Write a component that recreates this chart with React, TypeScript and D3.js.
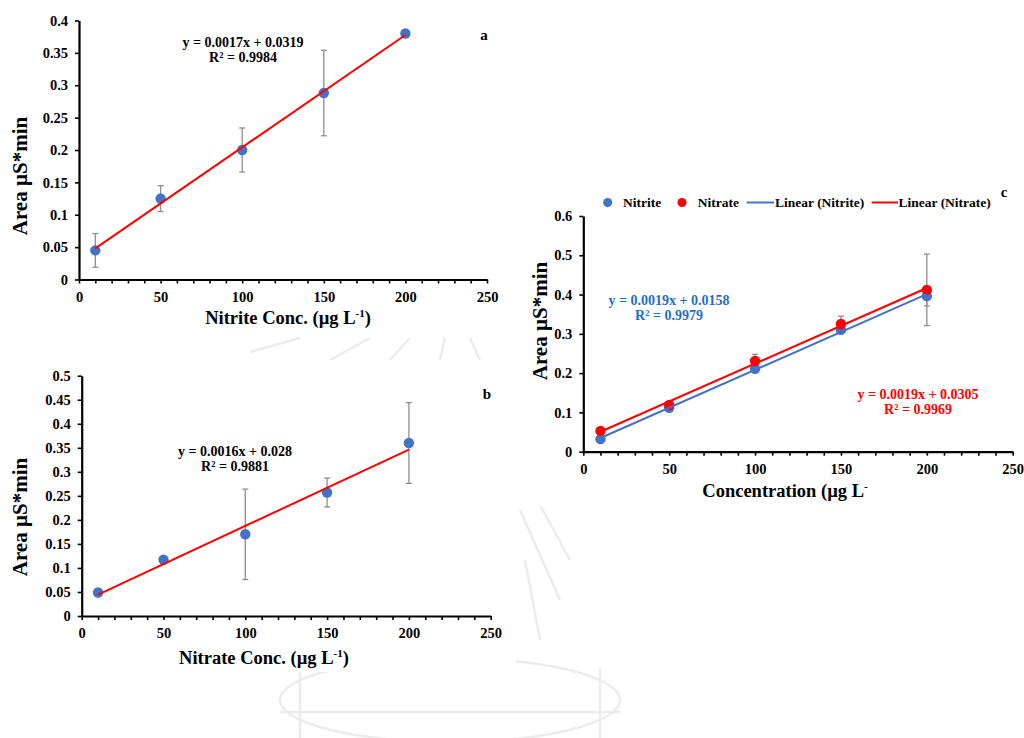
import React, { useEffect, useRef } from 'react';
import * as d3 from 'd3';

// concentrations used in every calibration (µg L-1)
const concentrations = [10, 50, 100, 150, 200];
const xTickValues = [0, 50, 100, 150, 200, 250];

// a: nitrite calibration
const nitriteAreaA = [0.045, 0.125, 0.2, 0.288, 0.38];
const nitriteErrA = [0.026, 0.02, 0.034, 0.066, 0];
const eqA = ['y = 0.0017x + 0.0319', 'R² = 0.9984'];

// b: nitrate calibration
const nitrateAreaB = [0.049, 0.117, 0.17, 0.257, 0.36];
const nitrateErrB = [0.007, 0, 0.094, 0.03, 0.084];
const eqB = ['y = 0.0016x + 0.028', 'R² = 0.9881'];

// c: both together
const nitriteAreaC = [0.032, 0.112, 0.211, 0.31, 0.396];
const nitriteErrC = [0.003, 0.01, 0.004, 0.008, 0.025];
const nitrateAreaC = [0.053, 0.119, 0.231, 0.325, 0.412];
const nitrateErrC = [0.004, 0.008, 0.017, 0.02, 0.091];
const eqNitriteC = ['y = 0.0019x + 0.0158', 'R² = 0.9979'];
const eqNitrateC = ['y = 0.0019x + 0.0305', 'R² = 0.9969'];
const legendNames = ['Nitrite', 'Nitrate', 'Linear (Nitrite)', 'Linear (Nitrate)'];

const FONT = '"Liberation Serif", "Times New Roman", serif';
const BLUE = '#4472C4';
const RED = '#FF0000';
const ERR = '#8f8f8f';

function linearFit(xs: number[], ys: number[]) {
  const mx = d3.mean(xs) as number;
  const my = d3.mean(ys) as number;
  const sxy = d3.sum(xs, (x, i) => (x - mx) * (ys[i] - my));
  const sxx = d3.sum(xs, (x) => (x - mx) * (x - mx));
  const slope = sxy / sxx;
  return (x: number) => my + slope * (x - mx);
}

type Series = { values: number[]; errors: number[]; marker: string; line: string };
type Label = { lines: string[]; color: string; x: number; y: number };
type Panel = {
  left: number; right: number; top: number; bottom: number;
  yMax: number; yStep: number;
  series: Series[];
  labels: Label[];
  letter: string; letterX: number; letterY: number;
  xTitle: string; xSup: string; xTitleX: number; xTitleY: number;
  yTitleX: number; yTitleY: number;
};

function drawPanel(svg: any, p: Panel) {
  const x = d3.scaleLinear().domain([0, 250]).range([p.left, p.right]);
  const y = d3.scaleLinear().domain([0, p.yMax]).range([p.bottom, p.top]);
  const g = svg.append('g');

  // y axis
  const yAxis = d3.axisLeft(y)
    .tickValues(d3.range(0, p.yMax + 1e-9, p.yStep))
    .tickFormat((d: any) => String(+(+d).toFixed(2)))
    .tickSize(4)
    .tickSizeOuter(0);
  const ya = g.append('g').attr('transform', `translate(${p.left},0)`).call(yAxis);
  ya.select('.domain').attr('stroke', '#000').attr('stroke-width', 2.2);
  ya.selectAll('.tick line').attr('stroke', '#000').attr('stroke-width', 1.6);
  ya.selectAll('text')
    .attr('x', -11)
    .style('font-family', FONT).style('font-size', '14.5px').style('font-weight', 'bold').attr('fill', '#000');

  // x axis, minor ticks every 10
  const xAxis = d3.axisBottom(x)
    .tickValues(d3.range(0, 251, 10))
    .tickFormat((d: any) => (xTickValues.includes(+d) ? String(d) : ''))
    .tickSize(4)
    .tickSizeOuter(0);
  const xa = g.append('g').attr('transform', `translate(0,${p.bottom})`).call(xAxis);
  xa.select('.domain').attr('stroke', '#000').attr('stroke-width', 2.2);
  xa.selectAll('.tick line').attr('stroke', '#000').attr('stroke-width', 1.6);
  xa.selectAll('text')
    .attr('y', 22).attr('dy', null)
    .style('font-family', FONT).style('font-size', '14.5px').style('font-weight', 'bold').attr('fill', '#000');

  // error bars
  p.series.forEach((s) => {
    const eb = g.append('g').attr('stroke', ERR).attr('stroke-width', 1.3);
    s.values.forEach((v, i) => {
      const e = s.errors[i];
      if (!e) return;
      const cx = x(concentrations[i]);
      eb.append('line').attr('x1', cx).attr('x2', cx).attr('y1', y(v - e)).attr('y2', y(v + e));
      [v - e, v + e].forEach((yy) =>
        eb.append('line').attr('x1', cx - 3).attr('x2', cx + 3).attr('y1', y(yy)).attr('y2', y(yy))
      );
    });
  });

  // markers
  p.series.forEach((s) => {
    g.append('g')
      .selectAll('circle')
      .data(s.values)
      .enter()
      .append('circle')
      .attr('cx', (_d: number, i: number) => x(concentrations[i]))
      .attr('cy', (d: number) => y(d))
      .attr('r', 5.2)
      .attr('fill', s.marker);
  });

  // linear trendlines
  p.series.forEach((s) => {
    const f = linearFit(concentrations, s.values);
    const ends = [concentrations[0], concentrations[concentrations.length - 1]];
    g.append('path')
      .datum(ends)
      .attr('d', d3.line<number>().x((d) => x(d)).y((d) => y(f(d))))
      .attr('stroke', s.line)
      .attr('stroke-width', 2)
      .attr('fill', 'none');
  });

  // equation labels
  p.labels.forEach((l) => {
    l.lines.forEach((t, i) => {
      g.append('text')
        .attr('x', l.x).attr('y', l.y + i * 15)
        .attr('text-anchor', 'middle')
        .attr('fill', l.color)
        .style('font-family', FONT).style('font-size', '14px').style('font-weight', 'bold')
        .text(t);
    });
  });

  // panel letter
  g.append('text')
    .attr('x', p.letterX).attr('y', p.letterY)
    .attr('text-anchor', 'middle')
    .style('font-family', FONT).style('font-size', '15px').style('font-weight', 'bold')
    .text(p.letter);

  // axis titles
  const xt = g.append('text')
    .attr('x', p.xTitleX).attr('y', p.xTitleY)
    .attr('text-anchor', 'middle')
    .style('font-family', FONT).style('font-size', '18.5px').style('font-weight', 'bold');
  xt.append('tspan').text(p.xTitle);
  xt.append('tspan').attr('dy', -7).style('font-size', '11px').text(p.xSup);
  if (p.xSup.length > 1) xt.append('tspan').attr('dy', 7).text(')');

  g.append('text')
    .attr('transform', `translate(${p.yTitleX},${p.yTitleY}) rotate(-90)`)
    .attr('text-anchor', 'middle')
    .attr('dy', '0.35em')
    .style('font-family', FONT).style('font-size', '21px').style('font-weight', 'bold')
    .text('Area µS*min');
}

function App() {
  const ref = useRef<SVGSVGElement>(null);

  useEffect(() => {
    const svg = d3.select(ref.current);
    svg.selectAll('*').remove();

    // faint emblem in the page background
    const wm = svg.append('g').attr('fill', 'none').attr('stroke', '#ececec').attr('stroke-width', 2.5);
    wm.append('ellipse').attr('cx', 450).attr('cy', 700).attr('rx', 170).attr('ry', 42);
    wm.append('path').attr('d', 'M300,668 L300,738 M600,668 L600,738 M280,712 L620,712');
    wm.append('path').attr('d', 'M250,352 L300,338 M330,360 L370,338 M390,360 L410,338 M440,360 L445,338 M480,360 L470,338');
    wm.append('path').attr('d', 'M520,510 L560,600 M540,505 L570,560 M525,560 L540,640');

    // white backings of the three figures
    svg.append('rect').attr('x', 0).attr('y', 0).attr('width', 516).attr('height', 336).attr('fill', '#fff');
    svg.append('rect').attr('x', 0).attr('y', 360).attr('width', 516).attr('height', 312).attr('fill', '#fff');
    svg.append('rect').attr('x', 516).attr('y', 180).attr('width', 508).attr('height', 326).attr('fill', '#fff');

    drawPanel(svg, {
      left: 79, right: 487, top: 20.5, bottom: 279.5, yMax: 0.4, yStep: 0.05,
      series: [{ values: nitriteAreaA, errors: nitriteErrA, marker: BLUE, line: RED }],
      labels: [{ lines: eqA, color: '#000', x: 243, y: 47 }],
      letter: 'a', letterX: 484, letterY: 40,
      xTitle: 'Nitrite Conc. (µg L', xSup: '-1', xTitleX: 288, xTitleY: 324,
      yTitleX: 20, yTitleY: 176,
    });

    drawPanel(svg, {
      left: 81.7, right: 490.7, top: 375.7, bottom: 616, yMax: 0.5, yStep: 0.05,
      series: [{ values: nitrateAreaB, errors: nitrateErrB, marker: BLUE, line: RED }],
      labels: [{ lines: eqB, color: '#000', x: 235, y: 456 }],
      letter: 'b', letterX: 487, letterY: 399,
      xTitle: 'Nitrate Conc. (µg L', xSup: '-1', xTitleX: 264, xTitleY: 664,
      yTitleX: 20, yTitleY: 517,
    });

    drawPanel(svg, {
      left: 583.3, right: 1012.7, top: 216, bottom: 451.7, yMax: 0.6, yStep: 0.1,
      series: [
        { values: nitriteAreaC, errors: nitriteErrC, marker: BLUE, line: BLUE },
        { values: nitrateAreaC, errors: nitrateErrC, marker: RED, line: RED },
      ],
      labels: [
        { lines: eqNitriteC, color: '#1F6FC5', x: 669, y: 305 },
        { lines: eqNitrateC, color: RED, x: 918, y: 399 },
      ],
      letter: 'c', letterX: 1004, letterY: 197,
      xTitle: 'Concentration (µg L', xSup: '-', xTitleX: 785, xTitleY: 497,
      yTitleX: 540, yTitleY: 321,
    });

    // legend of panel c
    const lg = svg.append('g')
      .style('font-family', FONT).style('font-size', '13.5px').style('font-weight', 'bold');
    const ly = 202.5;
    lg.append('circle').attr('cx', 607.7).attr('cy', ly).attr('r', 4.5).attr('fill', BLUE);
    lg.append('text').attr('x', 623).attr('y', ly + 4.5).text(legendNames[0]);
    lg.append('circle').attr('cx', 682).attr('cy', ly).attr('r', 4.5).attr('fill', RED);
    lg.append('text').attr('x', 697.7).attr('y', ly + 4.5).text(legendNames[1]);
    lg.append('line').attr('x1', 746.7).attr('x2', 774).attr('y1', ly).attr('y2', ly).attr('stroke', BLUE).attr('stroke-width', 2);
    lg.append('text').attr('x', 775).attr('y', ly + 4.5).text(legendNames[2]);
    lg.append('line').attr('x1', 871.7).attr('x2', 898).attr('y1', ly).attr('y2', ly).attr('stroke', RED).attr('stroke-width', 2);
    lg.append('text').attr('x', 898.5).attr('y', ly + 4.5).text(legendNames[3]);
  });

  return (
    <svg
      ref={ref}
      width={1024}
      height={738}
      style={{ position: 'absolute', left: 0, top: 0, background: '#fff' }}
    />
  );
}

export default App;
